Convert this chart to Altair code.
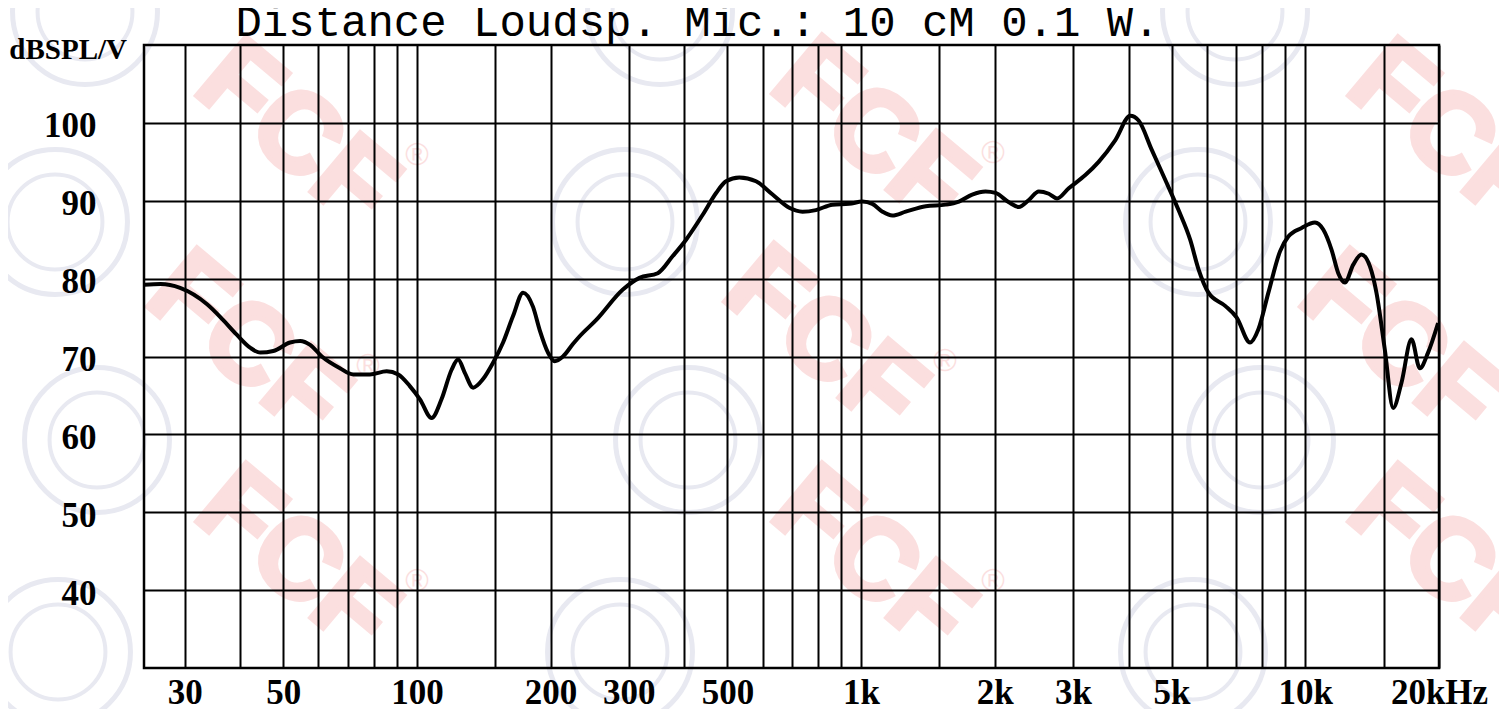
import altair as alt
import pandas as pd

TITLE = "Distance Loudsp. Mic.: 10 cM 0.1 W."
Y_UNIT = "dBSPL/V"

# Frequency response (Hz, dB SPL/V)
FREQ_HZ = [24.3, 26.5, 29.3, 33.7, 36.6, 39.3, 42.2, 44.4, 47.5, 51.8,
           54.6, 57.5, 61.1, 67.1, 71.9, 78.4, 85.5, 90.8, 96.4, 101.6,
           107.9, 113.6, 119.7, 123.8, 128.2, 133.8, 140.9, 148.4, 156.3, 164.6,
           173.4, 182.5, 189.0, 197.3, 204.2, 213.2, 224.5, 232.5, 253.4, 290.9,
           317, 348.5, 376.7, 403.6, 440, 471.6, 496.5, 531.9, 580, 632,
           689, 738, 791, 862, 940, 1007, 1060, 1117, 1176, 1260,
           1398, 1549, 1661, 1779, 1906, 2008, 2151, 2265, 2386, 2512,
           2646, 2761, 2934, 3198, 3426, 3736, 4037, 4214, 4515, 4838,
           5184, 5506, 5750, 6053, 6601, 7009, 7510, 7842, 8259, 8773,
           9158, 9811, 10515, 10975, 11460, 11864, 12281, 12823, 13380, 13975,
           14460, 15101, 15770, 16460, 17340, 18110, 18900, 19905]
SPL_DB = [79.2, 79.3, 78.8, 76.7, 74.7, 72.8, 71.1, 70.5, 70.7, 71.8,
          72.0, 71.5, 70.0, 68.5, 67.7, 67.7, 68.1, 67.7, 66.2, 64.5,
          62.1, 64.5, 68.3, 69.6, 67.9, 66.0, 67.1, 69.2, 71.8, 75.2,
          78.2, 76.4, 73.4, 70.5, 69.4, 70.0, 71.6, 72.6, 74.7, 78.6,
          80.1, 80.7, 82.9, 85.0, 88.2, 91.0, 92.5, 93.0, 92.5, 90.8,
          89.1, 88.6, 88.8, 89.5, 89.6, 89.9, 89.6, 88.6, 88.1, 88.6,
          89.3, 89.5, 89.9, 90.8, 91.2, 91.0, 89.8, 89.2, 90.1, 91.2,
          90.9, 90.3, 91.6, 93.3, 95.0, 97.8, 100.9, 100.3, 96.5, 92.7,
          88.8, 85.0, 81.2, 78.2, 76.5, 75.0, 71.8, 73.5, 78.2, 83.5,
          85.4, 86.5, 87.2, 86.3, 83.7, 80.7, 79.5, 81.8, 83.1, 81.6,
          78.2, 70.9, 63.4, 66.6, 72.2, 68.5, 70.5, 74.3]

X_GRID = [30, 40, 50, 60, 70, 80, 90, 100, 150, 200, 300, 400, 500, 600, 700,
          800, 900, 1000, 1500, 2000, 3000, 4000, 5000, 6000, 7000, 8000, 9000,
          10000, 15000, 20000]
X_LABEL_VALUES = [30, 50, 100, 200, 300, 500, 1000, 2000, 3000, 5000, 10000, 20000]
X_LABEL_TEXT = ["30", "50", "100", "200", "300", "500", "1k", "2k", "3k", "5k", "10k", "20kHz"]
Y_GRID = [40, 50, 60, 70, 80, 90, 100]

# background watermark placement (plot-area pixels)
WM_X = [152, 103, 152, 728, 680, 728, 1304, 1256, 1304]
WM_Y = [90, 301, 516, 88, 296, 516, 90, 301, 516]
REG_X = [273, 224, 273, 849, 801, 849]
REG_Y = [110, 321, 536, 108, 316, 536]
LOGO_X = [-59, -89, -47, -86, 516, 481, 544, 476, 1091, 1054, 1117, 1049]
LOGO_Y = [-33, 177, 395, 607, -33, 177, 395, 607, -33, 177, 395, 607]

W, H = 1295, 623
WM_COLOR = "#fbdfdf"
LOGO_COLOR = "#e8e9f1"

label_expr = " : ".join(
    f"datum.value == {v} ? '{t}'" for v, t in zip(X_LABEL_VALUES, X_LABEL_TEXT)
) + " : ''"

df = pd.DataFrame({"freq": FREQ_HZ, "spl": SPL_DB})
wm = pd.DataFrame({"px": WM_X, "py": WM_Y, "t": ["FCF"] * len(WM_X)})
regs = pd.DataFrame({"px": REG_X, "py": REG_Y, "r": ["®"] * len(REG_X)})
logos = pd.DataFrame({"px": LOGO_X, "py": LOGO_Y})

px = alt.X("px:Q", scale=None, axis=None)
py = alt.Y("py:Q", scale=None, axis=None)

logo_ring = alt.Chart(logos).mark_point(
    shape="circle", filled=False, size=21000, stroke=LOGO_COLOR, strokeWidth=5, opacity=1
).encode(x=px, y=py)
logo_inner = alt.Chart(logos).mark_point(
    shape="circle", filled=False, size=9000, stroke=LOGO_COLOR, strokeWidth=4, opacity=1
).encode(x=px, y=py)

watermark = alt.Chart(wm).mark_text(
    font="Liberation Sans", fontWeight="bold", fontSize=112, color=WM_COLOR,
    stroke=WM_COLOR, strokeWidth=5, angle=40, align="center", baseline="middle"
).encode(x=px, y=py, text="t:N")
reg = alt.Chart(regs).mark_text(
    font="Liberation Sans", fontSize=32, color=WM_COLOR,
    align="center", baseline="middle"
).encode(x=px, y=py, text="r:N")

line = alt.Chart(df).mark_line(
    color="black", strokeWidth=4, interpolate="monotone"
).encode(
    x=alt.X("freq:Q", scale=alt.Scale(type="log", domain=[24.3, 20000], nice=False),
            axis=alt.Axis(values=X_GRID, labelExpr=label_expr, title=None, zindex=1,
                          labelPadding=7, labelFlush=False, labelOverlap=False)),
    y=alt.Y("spl:Q", scale=alt.Scale(domain=[30, 110], nice=False),
            axis=alt.Axis(values=Y_GRID, title=None, labelPadding=48, labelOffset=3,
                          zindex=1, labelOverlap=False, labelFlush=False)),
)

border = alt.Chart(pd.DataFrame({"a": [0]})).mark_rect(
    fill=None, stroke="black", strokeWidth=2.5
).encode(x=alt.value(0), x2=alt.value(W), y=alt.value(0), y2=alt.value(H))

title = alt.Chart(pd.DataFrame({"t": [TITLE]})).mark_text(
    font="Liberation Mono", fontSize=44, color="black",
    align="center", baseline="alphabetic"
).encode(x=alt.value(553.5), y=alt.value(-9), text="t:N")

unit = alt.Chart(pd.DataFrame({"t": [Y_UNIT]})).mark_text(
    font="Liberation Serif", fontWeight="bold", fontSize=29, color="black",
    align="right", baseline="alphabetic"
).encode(x=alt.value(-17), y=alt.value(14), text="t:N")

chart = alt.layer(
    logo_ring, logo_inner, watermark, reg, line, border, title, unit
).resolve_scale(
    x="independent", y="independent"
).properties(
    width=W, height=H,
    autosize=alt.AutoSizeParams(type="none"),
    padding={"left": 136, "top": 37, "right": 60, "bottom": 41},
).configure_view(
    stroke=None, fill="white"
).configure_axis(
    grid=True, gridColor="black", gridWidth=2, gridOpacity=1,
    domain=False, ticks=False, zindex=1,
    labelFont="Liberation Serif", labelFontWeight="bold", labelFontSize=35,
    labelColor="black",
)

chart.save("out.html", embed_options={"renderer": "svg", "actions": False})
